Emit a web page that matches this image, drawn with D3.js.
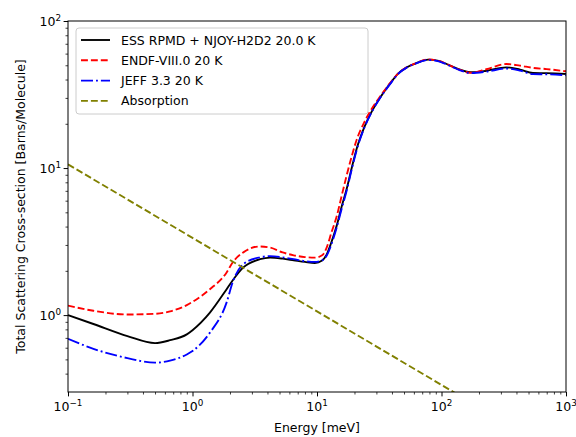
<!DOCTYPE html>
<html>
<head>
<meta charset="utf-8">
<script src="https://cdn.jsdelivr.net/npm/d3@7/dist/d3.min.js"></script>
<style>
  body { margin: 0; background: #fff; }
  svg { display: block; font-family: "DejaVu Sans", sans-serif; }
</style>
</head>
<body>
<div id="chart"></div>
<script>
// Energy grid (meV) shared by the three scattering curves
const energy = [0.1, 0.16, 0.3, 0.5, 0.66, 0.9, 1.0, 1.38, 1.88, 2.1, 2.56, 3.48, 4.2, 5.3, 6.5, 8.0, 9.6,
  11, 12, 13, 14.4, 15.8, 17.3, 19, 20.8, 24, 27.7, 32, 38.6, 45, 52.5, 62, 78, 95, 110, 141, 170, 229,
  331, 427, 543, 700, 1000];

// Total scattering cross-sections (barns/molecule)
const essRpmd = [1.0, 0.87, 0.72, 0.645, 0.675, 0.74, 0.79, 1.04, 1.5, 1.72, 2.11, 2.4, 2.46, 2.42, 2.36, 2.3, 2.26,
  2.35, 2.6, 3.1, 4.06, 5.5, 7.2, 10, 13.5, 19, 24.5, 30, 37.5, 44, 48.4, 51.5, 54.6, 53.5, 51, 46.7, 44.8, 45.9,
  48.4, 46.7, 44.3, 44.2, 43.6];
const endf = [1.16, 1.07, 1.01, 1.02, 1.06, 1.17, 1.23, 1.5, 1.95, 2.28, 2.67, 2.93, 2.88, 2.67, 2.55, 2.48, 2.46,
  2.55, 2.9, 3.6, 4.7, 6.5, 8.9, 12, 15.5, 20.5, 25.5, 30.5, 37.8, 44, 48.4, 51.5, 54.8, 53.5, 51, 46.5, 44.5, 47,
  51, 49.7, 48, 47.1, 45.5];
const jeff = [0.69, 0.59, 0.51, 0.475, 0.49, 0.54, 0.57, 0.76, 1.22, 1.67, 2.22, 2.47, 2.52, 2.47, 2.4, 2.33, 2.3,
  2.36, 2.55, 3.0, 3.95, 5.3, 7.0, 9.8, 13.2, 18.8, 24.3, 29.8, 37.2, 43.8, 48.2, 51.3, 54.3, 53.2, 50.6, 46.2, 44.2, 45.2,
  47.5, 46, 43.5, 43.4, 42.8];

// Absorption cross-section
const absEnergy = [0.1, 1, 10, 100, 1000];
const absorption = [10.6, 3.35, 1.06, 0.335, 0.106];

const seriesLabels = ["ESS RPMD + NJOY-H2D2 20.0 K", "ENDF-VIII.0 20 K", "JEFF 3.3 20 K", "Absorption"];

const xTicks = [0.1, 1, 10, 100, 1000];
const xTickExp = ["\u22121", "0", "1", "2", "3"];
const yTicks = [1, 10, 100];
const yTickExp = ["0", "1", "2"];

const width = 576, height = 437;
const margin = { top: 21, right: 10, bottom: 45, left: 68 };
const iw = width - margin.left - margin.right;
const ih = height - margin.top - margin.bottom;

const x = d3.scaleLog().domain([0.1, 1000]).range([0, iw]);
const y = d3.scaleLog().domain([0.3, 100]).range([ih, 0]);

const svg = d3.select("#chart").append("svg")
  .attr("width", width)
  .attr("height", height);

svg.append("defs").append("clipPath").attr("id", "clip")
  .append("rect").attr("width", iw).attr("height", ih);

const g = svg.append("g").attr("transform", `translate(${margin.left},${margin.top})`);

// minor ticks for log axes
function minorTicks(lo, hi) {
  const out = [];
  for (let p = -2; p <= 3; p++) {
    for (let m = 2; m <= 9; m++) {
      const v = m * Math.pow(10, p);
      if (v > lo * 1.0001 && v < hi * 0.9999) out.push(v);
    }
  }
  return out;
}

// x axis
const xMinor = g.append("g").attr("transform", `translate(0,${ih})`)
  .call(d3.axisBottom(x).tickValues(minorTicks(0.1, 1000)).tickSize(2.5).tickFormat(""));
const xMajor = g.append("g").attr("transform", `translate(0,${ih})`)
  .call(d3.axisBottom(x).tickValues(xTicks).tickSize(4.4).tickFormat(""));

// y axis
const yMinor = g.append("g")
  .call(d3.axisLeft(y).tickValues(minorTicks(0.3, 100)).tickSize(2.5).tickFormat(""));
const yMajor = g.append("g")
  .call(d3.axisLeft(y).tickValues(yTicks).tickSize(4.4).tickFormat(""));

[xMinor, xMajor, yMinor, yMajor].forEach(a => {
  a.select(".domain").remove();
  a.selectAll(".tick line").attr("stroke", "#000");
});
xMinor.selectAll(".tick line").attr("stroke-width", 0.75);
yMinor.selectAll(".tick line").attr("stroke-width", 0.75);

// tick labels with superscripts
xTicks.forEach((v, i) => {
  const t = g.append("text")
    .attr("x", x(v)).attr("y", ih + 19)
    .attr("text-anchor", "middle")
    .attr("font-size", 12.5).attr("fill", "#000");
  t.append("tspan").text("10");
  t.append("tspan").attr("dy", -5.5).attr("font-size", 8.8).text(xTickExp[i]);
});
yTicks.forEach((v, i) => {
  const t = g.append("text")
    .attr("x", -7).attr("y", y(v) + 5)
    .attr("text-anchor", "end")
    .attr("font-size", 12.5).attr("fill", "#000");
  t.append("tspan").text("10");
  t.append("tspan").attr("dy", -5.5).attr("font-size", 8.8).text(yTickExp[i]);
});

// axis titles
svg.append("text")
  .attr("x", margin.left + iw / 2).attr("y", 432)
  .attr("text-anchor", "middle").attr("font-size", 12.5)
  .text("Energy [meV]");
svg.append("text")
  .attr("transform", `translate(25,${margin.top + ih / 2}) rotate(-90)`)
  .attr("text-anchor", "middle").attr("font-size", 12.5)
  .text("Total Scattering Cross-section [Barns/Molecule]");

// lines
const line = d3.line()
  .x(d => x(d[0]))
  .y(d => y(d[1]))
  .curve(d3.curveMonotoneX);

const series = [
  { name: seriesLabels[0], e: energy, v: essRpmd, color: "#000000", dash: null },
  { name: seriesLabels[1], e: energy, v: endf, color: "#ff0000", dash: "6.9,3" },
  { name: seriesLabels[2], e: energy, v: jeff, color: "#0000ff", dash: "12,3,1.9,3" },
  { name: seriesLabels[3], e: absEnergy, v: absorption, color: "#808000", dash: "6.9,3" }
];

const plot = g.append("g").attr("clip-path", "url(#clip)");
series.forEach(s => {
  plot.append("path")
    .datum(s.e.map((e, i) => [e, s.v[i]]))
    .attr("fill", "none")
    .attr("stroke", s.color)
    .attr("stroke-width", 1.875)
    .attr("stroke-dasharray", s.dash)
    .attr("d", s === series[3] ? d3.line().x(d => x(d[0])).y(d => y(d[1])) : line);
});

// frame
g.append("rect")
  .attr("width", iw).attr("height", ih)
  .attr("fill", "none").attr("stroke", "#000").attr("stroke-width", 1);

// legend
const leg = g.append("g").attr("transform", "translate(8,7)");
leg.append("rect")
  .attr("width", 292).attr("height", 86)
  .attr("rx", 3).attr("ry", 3)
  .attr("fill", "#fff").attr("fill-opacity", 0.8)
  .attr("stroke", "#cccccc").attr("stroke-width", 1);
series.forEach((s, i) => {
  const yy = 12 + i * 20.3;
  leg.append("line")
    .attr("x1", 5).attr("x2", 34).attr("y1", yy).attr("y2", yy)
    .attr("stroke", s.color).attr("stroke-width", 1.875)
    .attr("stroke-dasharray", s.dash);
  leg.append("text")
    .attr("x", 45).attr("y", yy + 4.5)
    .attr("font-size", 12.5).attr("fill", "#000")
    .text(s.name);
});
</script>
</body>
</html>
